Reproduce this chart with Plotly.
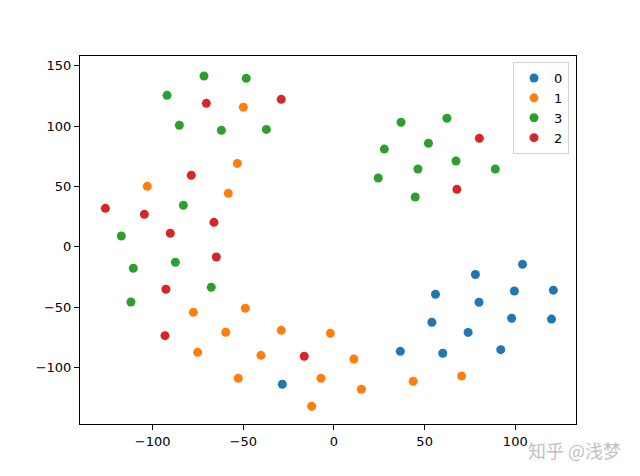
import plotly.graph_objects as go

# cluster label -> points
labels = ['0', '1', '3', '2']
colors = ['#1f77b4', '#ff7f0e', '#2ca02c', '#d62728']

x0 = [104, 78, 56, 99.5, 121, 80, 54, 98, 120, 74, 36.6, 60, 92, -28.5]
y0 = [-14.6, -23, -39.4, -36.7, -36, -46, -62.6, -59.3, -60, -71, -86.7, -88.3, -85.3, -114]

x1 = [-103, -50, -53.3, -58.3, -77.6, -48.9, -59.7, -29.1, -2, -75.2, -40.3,
      -52.8, -7.2, -12.3, 11, 15.1, 43.7, 70.4]
y1 = [50, 115.5, 69, 44.2, -54.4, -51, -70.9, -69.3, -71.8, -87.5, -90,
      -109, -109, -132.2, -93, -118.1, -111.5, -107.1]

x3 = [-71.7, -48.4, -92.1, -85.3, -62.1, -37.3, -83.1, -117.3, -110.7, -87.5, -67.7, -112,
      37, 62.3, 27.8, 52.1, 67.3, 46.3, 89, 24.4, 44.8]
y3 = [141.4, 139.5, 125.4, 100.6, 96.4, 97.2, 34.3, 8.9, -17.9, -12.9, -33.6, -45.8,
      103.1, 106.4, 80.9, 85.7, 71, 64.4, 64.4, 56.9, 41.2]

x2 = [-70.4, -29.1, -78.7, -126.1, -104.6, -66.2, -90.3, -64.9, -92.7, -93.2, -16.4, 80.2, 67.8]
y2 = [118.8, 122.1, 59.2, 31.8, 26.8, 20.2, 11.1, -8.5, -35.3, -73.7, -90.8, 89.8, 47.5]

xs = [x0, x1, x3, x2]
ys = [y0, y1, y3, y2]

fig = go.Figure()
for lab, col, x, y in zip(labels, colors, xs, ys):
    fig.add_trace(go.Scatter(x=x, y=y, mode='markers', name=lab,
                             marker=dict(color=col, size=9, line=dict(width=0))))

axis_style = dict(showline=True, linewidth=1, linecolor='black', mirror=True,
                  ticks='outside', ticklen=5, tickcolor='black', showgrid=False,
                  zeroline=False, tickfont=dict(family='DejaVu Sans', size=13, color='black'))

fig.update_xaxes(range=[-140.1, 133.5], tickvals=[-100, -50, 0, 50, 100], **axis_style)
fig.update_yaxes(range=[-146.9, 158], tickvals=[-100, -50, 0, 50, 100, 150], **axis_style)

# the page body adds an 8px offset, so margins are trimmed by 8 on left/top
fig.update_layout(
    width=640, height=476,
    margin=dict(l=72, r=72, t=48, b=60, autoexpand=False),
    plot_bgcolor='white', paper_bgcolor='white',
    legend=dict(x=(569 - 80) / 496, y=1 - (62 - 56) / 368, xanchor='right', yanchor='top',
                bordercolor='#d0d0d0', borderwidth=1, bgcolor='rgba(255,255,255,0.8)',
                font=dict(family='DejaVu Sans', size=13, color='black'),
                itemwidth=30, tracegroupgap=0),
    annotations=[dict(text='知乎 @浅梦', x=(623 - 80) / 496, y=(424 - 450) / 368,
                      xref='paper', yref='paper', showarrow=False,
                      xanchor='right', yanchor='middle',
                      font=dict(family='Noto Sans CJK SC', size=18, color='rgba(170,170,170,0.75)'))],
)

fig.write_html("out.html")
